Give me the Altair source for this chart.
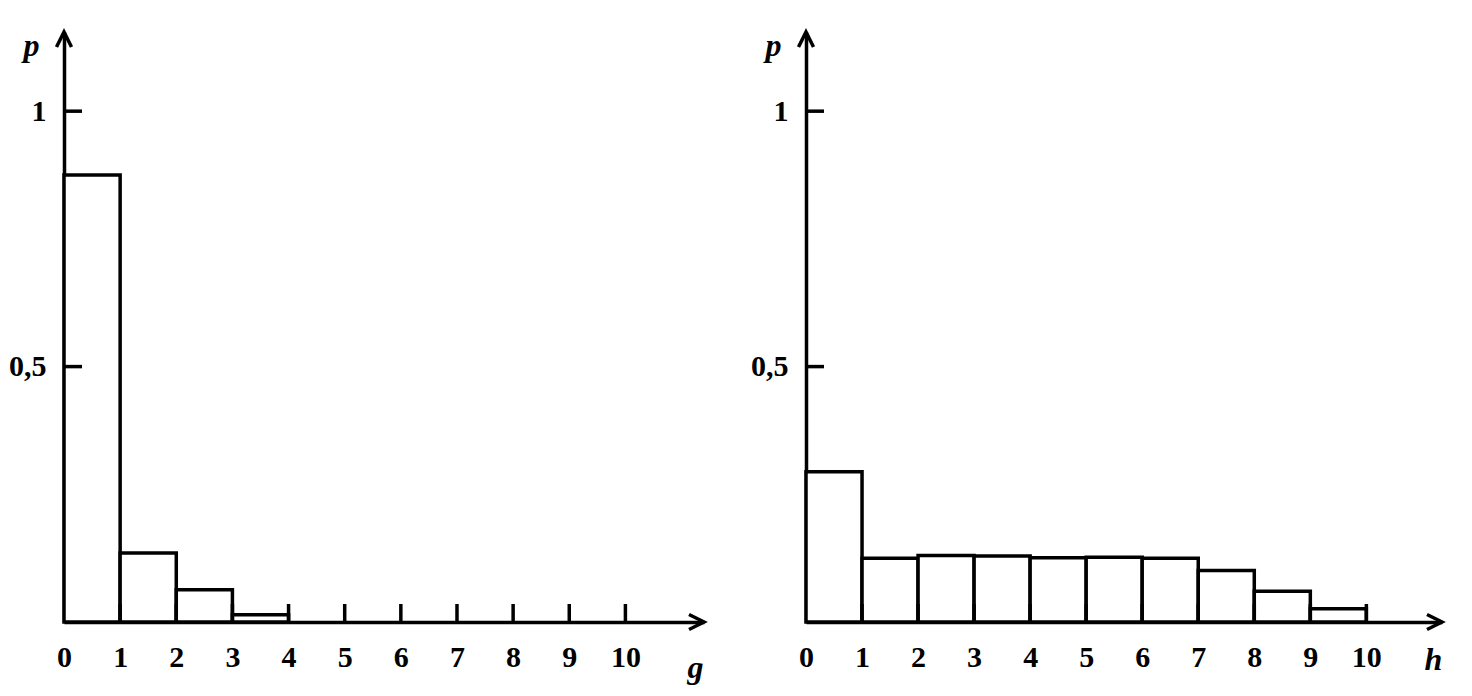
import altair as alt
import pandas as pd

# ---- data ----
g_bins = [0, 1, 2, 3]
g_p = [0.875, 0.135, 0.063, 0.014]

h_bins = [0, 1, 2, 3, 4, 5, 6, 7, 8, 9]
h_p = [0.294, 0.125, 0.130, 0.129, 0.126, 0.127, 0.125, 0.101, 0.060, 0.026]

x_tick_labels = [0, 1, 2, 3, 4, 5, 6, 7, 8, 9, 10]
x_tick_marks = [1, 2, 3, 4, 5, 6, 7, 8, 9, 10]
y_tick_values = [0.5, 1.0]

YMAX = 1.155
H = 590
FONT = "Liberation Serif"
LW = 3.5


def panel(bins, probs, xname, title_y, xmax, width):
    df = pd.DataFrame({"x": bins, "x2": [b + 1 for b in bins], "p": probs})
    xs = alt.Scale(domain=[0, xmax], nice=False, zero=False)
    ys = alt.Scale(domain=[0, YMAX], nice=False)

    xaxis = alt.Axis(
        values=x_tick_labels, tickSize=0, labelPadding=20, labelFont=FONT,
        labelFontSize=30, labelFontWeight="bold", labelColor="black", labelFlush=False,
        domainWidth=LW, domainColor="black", grid=False,
        title=xname, titleFont=FONT, titleFontSize=32, titleFontStyle="italic",
        titleFontWeight="bold", titleColor="black", titleX=width - 9, titleY=title_y,
        titleAlign="center", titleBaseline="alphabetic", titleAnchor="start",
    )
    yaxis = alt.Axis(
        values=y_tick_values, tickSize=0, labelPadding=18, labelFont=FONT,
        labelFontSize=30, labelFontWeight="bold", labelColor="black", labelFlush=False,
        labelExpr="datum.value == 0.5 ? '0,5' : '1'",
        domainWidth=LW, domainColor="black", grid=False,
        title="p", titleFont=FONT, titleFontSize=32, titleFontStyle="italic",
        titleFontWeight="bold", titleColor="black", titleAngle=0, titleX=-33,
        titleY=23, titleAlign="center", titleBaseline="alphabetic",
    )

    bars = alt.Chart(df).mark_rect(fill="white", stroke="black", strokeWidth=LW).encode(
        x=alt.X("x:Q", scale=xs, axis=xaxis),
        x2="x2:Q",
        y=alt.Y("p:Q", scale=ys, axis=yaxis),
        y2=alt.datum(0),
    )

    xt = alt.Chart(pd.DataFrame({"t": x_tick_marks})).mark_rule(
        color="black", strokeWidth=LW
    ).encode(
        x=alt.X("t:Q", scale=xs),
        y=alt.value(H),
        y2=alt.value(H - 18),
    )

    yt = alt.Chart(pd.DataFrame({"v": y_tick_values})).mark_rule(
        color="black", strokeWidth=LW
    ).encode(
        y=alt.Y("v:Q", scale=ys),
        x=alt.value(0),
        x2=alt.value(18),
    )

    arrow_x = alt.Chart(pd.DataFrame({"x": [xmax], "y": [0]})).mark_point(
        shape="M-1,-0.5L0,0L-1,0.5", size=900, filled=False, stroke="black",
        strokeWidth=LW, opacity=1,
    ).encode(x=alt.X("x:Q", scale=xs), y=alt.Y("y:Q", scale=ys))

    arrow_y = alt.Chart(pd.DataFrame({"x": [0], "y": [YMAX]})).mark_point(
        shape="M-0.5,1L0,0L0.5,1", size=900, filled=False, stroke="black",
        strokeWidth=LW, opacity=1,
    ).encode(x=alt.X("x:Q", scale=xs), y=alt.Y("y:Q", scale=ys))

    return alt.layer(bars, xt, yt, arrow_x, arrow_y).properties(width=width, height=H)


left = panel(g_bins, g_p, "g", 55, 11.4, 640)
right = panel(h_bins, h_p, "h", 47, 11.35, 636)

chart = alt.hconcat(left, right, spacing=39).properties(
    padding={"left": 0, "top": 17, "right": 0, "bottom": 8},
    background="white",
).configure_view(strokeWidth=0, stroke=None)

chart.save("out.html", embed_options={"renderer": "svg", "actions": False})
